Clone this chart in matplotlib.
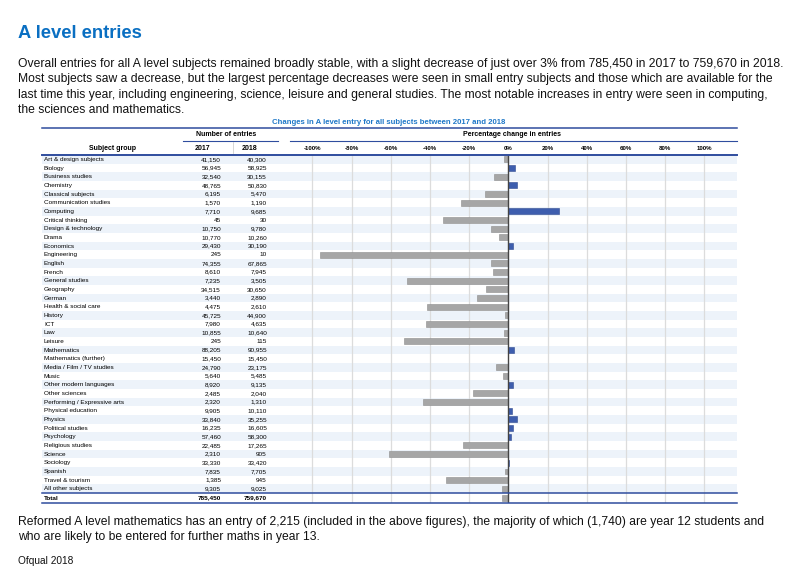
import matplotlib
matplotlib.use("Agg")
import matplotlib.pyplot as plt
from matplotlib.lines import Line2D
import numpy as np

plt.rcParams['font.family'] = ['Liberation Sans', 'DejaVu Sans']

subjects = ["Art & design subjects", "Biology", "Business studies", "Chemistry",
            "Classical subjects", "Communication studies", "Computing", "Critical thinking",
            "Design & technology", "Drama", "Economics", "Engineering", "English", "French",
            "General studies", "Geography", "German", "Health & social care", "History",
            "ICT", "Law", "Leisure", "Mathematics", "Mathematics (further)",
            "Media / Film / TV studies", "Music", "Other modern languages", "Other sciences",
            "Performing / Expressive arts", "Physical education", "Physics",
            "Political studies", "Psychology", "Religious studies", "Science", "Sociology",
            "Spanish", "Travel & tourism", "All other subjects"]
entries_2017 = [41150, 56945, 32540, 48765, 6195, 1570, 7710, 45, 10750, 10770, 29430,
                245, 74355, 8610, 7235, 34515, 3440, 4475, 45725, 7980, 10855, 245,
                88205, 15450, 24790, 5640, 8920, 2485, 2320, 9905, 33840, 16235, 57460,
                22485, 2310, 33330, 7835, 1385, 9305]
entries_2018 = [40300, 58925, 30155, 50830, 5470, 1190, 9685, 30, 9780, 10260, 30190,
                10, 67865, 7945, 3505, 30650, 2890, 2610, 44900, 4635, 10640, 115,
                90955, 15450, 23175, 5485, 9135, 2040, 1310, 10110, 35255, 16605, 58300,
                17265, 905, 33420, 7705, 945, 9025]
total_label = "Total"
total_2017 = 785450
total_2018 = 759670
pct_ticks = [-100, -80, -60, -40, -20, 0, 20, 40, 60, 80, 100]

W, H = 800, 586
fig = plt.figure(figsize=(W / 100, H / 100), dpi=100)
fig.patch.set_facecolor("white")


def fx(px):
    return px / W


def fy(py):
    return 1 - py / H


BLUE_TXT = "#0a6fc2"
LINE_BLUE = "#2f4d9e"
BAR_BLUE = "#3e5eae"
BAR_GRAY = "#a6a6a6"
SHADE = "#edf3fa"

# Title and paragraph
fig.text(fx(18), fy(38), "A level entries", color=BLUE_TXT, fontsize=13.2,
         fontweight="bold", ha="left", va="baseline")
para = ["Overall entries for all A level subjects remained broadly stable, with a slight decrease of just over 3% from 785,450 in 2017 to 759,670 in 2018.",
        "Most subjects saw a decrease, but the largest percentage decreases were seen in small entry subjects and those which are available for the",
        "last time this year, including engineering, science, leisure and general studies. The most notable increases in entry were seen in computing,",
        "the sciences and mathematics."]
for i, line in enumerate(para):
    fig.text(fx(18), fy(67 + 15.4 * i), line, fontsize=8.72, ha="left", va="baseline",
             color="#111111")

foot = ["Reformed A level mathematics has an entry of 2,215 (included in the above figures), the majority of which (1,740) are year 12 students and",
        "who are likely to be entered for further maths in year 13."]
for i, line in enumerate(foot):
    fig.text(fx(18), fy(525 + 15.4 * i), line, fontsize=8.72, ha="left", va="baseline",
             color="#111111")
fig.text(fx(18), fy(564), "Ofqual 2018", fontsize=7.3, ha="left", va="baseline",
         color="#111111")

# Table geometry
n = len(subjects)
top_px, bottom_px = 155, 503
row_px = 8.67
total_h = (bottom_px - top_px - n * row_px) / row_px
ymax = n + total_h
left_px, split_px, right_px = 42, 285, 737

tab = fig.add_axes([fx(left_px), fy(bottom_px), fx(right_px) - fx(left_px),
                    fy(top_px) - fy(bottom_px)])
tab.set_xlim(left_px, right_px)
tab.set_ylim(ymax, 0)
tab.axis("off")
for i in range(n):
    if i % 2 == 0:
        tab.axhspan(i, i + 1, color=SHADE, lw=0, zorder=0)

fs = 4.6
for i, s in enumerate(subjects):
    tab.text(44, i + 0.5, s, fontsize=fs, ha="left", va="center")
    tab.text(221, i + 0.5, f"{entries_2017[i]:,}", fontsize=fs, ha="right", va="center")
    tab.text(267, i + 0.5, f"{entries_2018[i]:,}", fontsize=fs, ha="right", va="center")
yt = n + total_h / 2
tab.text(44, yt, total_label, fontsize=fs, ha="left", va="center", fontweight="bold")
tab.text(221, yt, f"{total_2017:,}", fontsize=fs, ha="right", va="center", fontweight="bold")
tab.text(267, yt, f"{total_2018:,}", fontsize=fs, ha="right", va="center", fontweight="bold")

# Chart axes
ch = fig.add_axes([fx(split_px), fy(bottom_px), fx(right_px) - fx(split_px),
                   fy(top_px) - fy(bottom_px)])
ch.patch.set_alpha(0)
ch.set_xlim(-114, 116.7)
ch.set_ylim(ymax, 0)
ch.axis("off")
for t in pct_ticks:
    if t != 0:
        ch.axvline(t, color="#dcdcdc", lw=0.9, zorder=1)

e17 = np.array(entries_2017 + [total_2017], dtype=float)
e18 = np.array(entries_2018 + [total_2018], dtype=float)
pct = (e18 - e17) / e17 * 100
ypos = np.arange(n + 1) + 0.5
ypos[-1] = n + total_h / 2
colors = [BAR_BLUE if p > 0 else BAR_GRAY for p in pct]
edges = ["#2f4a90" if p > 0 else "#8c8c8c" for p in pct]
ch.barh(ypos, pct, height=0.68, color=colors, edgecolor=edges, linewidth=0.4, zorder=2)
ch.axvline(0, color="#444444", lw=1.0, zorder=3)

# Header
fig.text(fx(389), fy(122), "Changes in A level entry for all subjects between 2017 and 2018",
         color="#1f78c8", fontsize=5.6, fontweight="bold", ha="center", va="center")
fig.add_artist(Line2D([fx(left_px), fx(right_px)], [fy(128), fy(128)], color=LINE_BLUE, lw=1.1))
fig.text(fx(226), fy(135), "Number of entries", fontsize=5.0, fontweight="bold",
         ha="center", va="center")
fig.text(fx(512), fy(135), "Percentage change in entries", fontsize=5.0, fontweight="bold",
         ha="center", va="center")
fig.add_artist(Line2D([fx(183), fx(278)], [fy(141), fy(141)], color=LINE_BLUE, lw=0.8))
fig.add_artist(Line2D([fx(290), fx(right_px)], [fy(141), fy(141)], color=LINE_BLUE, lw=0.8))
fig.add_artist(Line2D([fx(233), fx(233)], [fy(142), fy(153)], color="#d0d0d0", lw=0.6))
fig.text(fx(112), fy(148), "Subject group", fontsize=5.0, fontweight="bold",
         ha="center", va="center")
fig.text(fx(203), fy(148), "2017", fontsize=5.0, fontweight="bold", ha="center", va="center")
fig.text(fx(250), fy(148), "2018", fontsize=5.0, fontweight="bold", ha="center", va="center")
x0, x1 = ch.get_xlim()
for t in pct_ticks:
    px = split_px + (t - x0) / (x1 - x0) * (right_px - split_px)
    fig.text(fx(px), fy(148), f"{t}%", fontsize=4.4, fontweight="bold",
             ha="center", va="center")
fig.add_artist(Line2D([fx(left_px), fx(right_px)], [fy(154.5), fy(154.5)], color=LINE_BLUE, lw=1.4))
total_top_px = top_px + n * row_px
fig.add_artist(Line2D([fx(left_px), fx(right_px)], [fy(total_top_px), fy(total_top_px)],
                      color=LINE_BLUE, lw=1.1))
fig.add_artist(Line2D([fx(left_px), fx(right_px)], [fy(bottom_px), fy(bottom_px)],
                      color=LINE_BLUE, lw=1.1))

fig.savefig("out.png", dpi=100)
